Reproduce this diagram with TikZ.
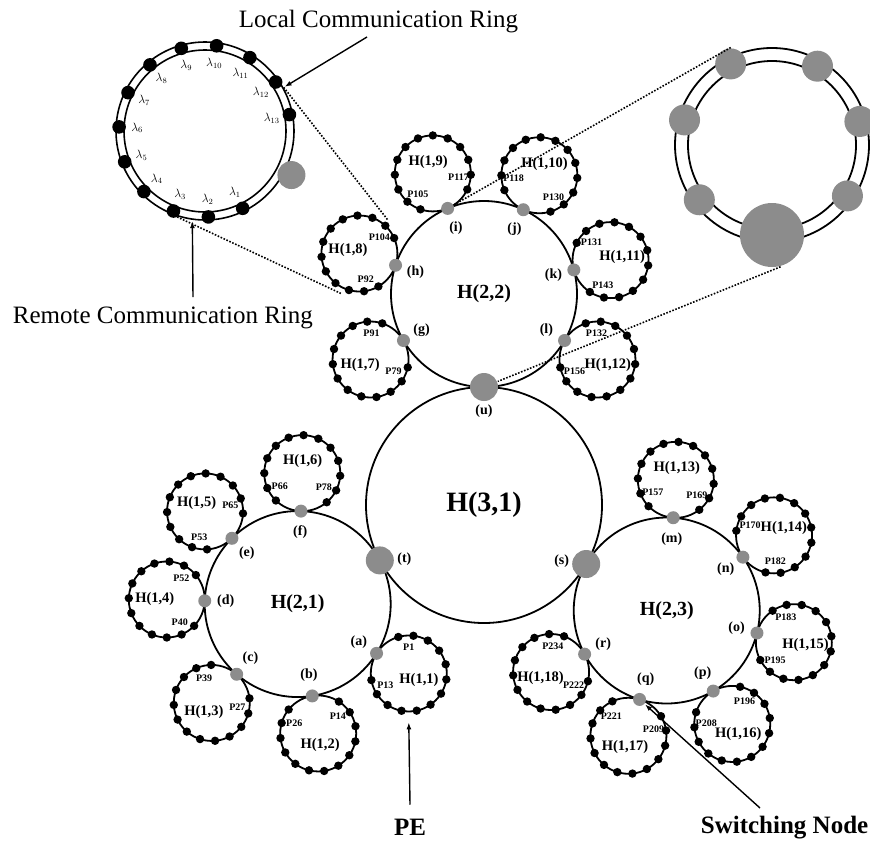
\documentclass[tikz,border=0pt]{standalone}
\usepackage{fontspec}
\setmainfont{Liberation Serif}
\usetikzlibrary{arrows.meta, calc, positioning}

\begin{document}
\begin{tikzpicture}[
		x=1pt, y=1pt,
		line width=1.8pt,
		hier/.style={draw, circle, line width=1.8pt, inner sep=0pt},
		pering/.style={draw, circle, line width=1.8pt, minimum size=76pt, inner sep=0pt},
		swbig/.style={circle, fill=black!45, minimum size=28pt, inner sep=0pt},
		swsmall/.style={circle, fill=black!45, minimum size=13pt, inner sep=0pt},
		bigname/.style={font=\fontsize{28}{30}\selectfont\bfseries},
		midname/.style={font=\fontsize{20}{22}\selectfont\bfseries},
		smallname/.style={font=\fontsize{14.5}{16}\selectfont\bfseries, inner sep=0pt},
		jlabel/.style={font=\fontsize{14}{16}\selectfont\bfseries},
		plabel/.style={font=\fontsize{10}{11}\selectfont\bfseries, inner sep=0pt},
		lambda/.style={font=\fontsize{12}{13}\selectfont, inner sep=0pt},
		caption/.style={font=\fontsize{25}{28}\selectfont, inner sep=0pt},
		bcaption/.style={font=\fontsize{25}{28}\selectfont\bfseries, inner sep=0pt},
		magline/.style={line width=1.6pt, dash pattern=on 1.6pt off 1.6pt},
		pointer/.style={line width=1.4pt, -{Latex[length=7pt,width=5pt]}}
	]

	\useasboundingbox (0,0) rectangle (870,-844);

	% rings of level 3 and 2
	\node[hier, minimum size=236pt] (h31) at (484,-505) {};
	\node[hier, minimum size=186pt] (h22) at ($(h31.center)+(90:211)$) {};
	\node[hier, minimum size=186pt] (h21) at ($(h31.center)+(208:211)$) {};
	\node[hier, minimum size=186pt] (h23) at ($(h31.center)+(330:211)$) {};

	\node[bigname] (n31) at (h31.center) {H(3,1)};
	\node[midname] (n22) at (h22.center) {H(2,2)};
	\node[midname] (n21) at (h21.center) {H(2,1)};
	\node[midname] (n23) at (h23.center) {H(2,3)};

	% rings of level 1, with their PEs
	\foreach \hc/\ang/\j/\n/\pfirst/\plast in {h21/328/a/1/1/13, h21/279/b/2/14/26, h21/229/c/3/27/39,
			h21/178/d/4/40/52, h21/135/e/5/53/65, h21/88/f/6/66/78,
			h22/210/g/7/79/91, h22/162/h/8/92/104, h22/113/i/9/105/117,
			h22/65/j/10/118/130, h22/15/k/11/131/143, h22/330/l/12/132/156,
			h23/86/m/13/157/169, h23/35/n/14/170/182, h23/346/o/15/183/195,
			h23/300/p/16/196/208, h23/253/q/17/209/221, h23/208/r/18/222/234} {
		\node[pering] (h1-\n) at ($(\hc.center)+(\ang:131)$) {};
		\foreach \k in {1,...,13}
			\fill ($(h1-\n.center)+(\ang+161-23*\k:38)$) circle (4.2);
		\node[smallname] (n1-\n) at ($(h1-\n.center)+(\ang:12)$) {H(1,\n)};
		\node[plabel] (pf-\n) at ($(h1-\n.center)+(\ang+122:26)$) {P\pfirst};
		\node[plabel] (pl-\n) at ($(h1-\n.center)+(\ang+238:26)$) {P\plast};
		\node[swsmall] (sw-\j) at ($(\hc.center)+(\ang:93)$) {};
		\node[jlabel] (lb-\j) at ($(\hc.center)+(\ang:72)$) {(\j)};
	}

	% switching nodes between level 2 rings
	\node[swbig] (sw-t) at ($(h21.center)+(28:93)$) {};
	\node[swbig] (sw-s) at ($(h23.center)+(150:93)$) {};
	\node[swbig] (sw-u) at ($(h22.center)+(270:93)$) {};
	\node[jlabel] (lb-t) at ($(h31.center)+(214:96)$) {(t)};
	\node[jlabel] (lb-s) at ($(h31.center)+(324:96)$) {(s)};
	\node[jlabel] (lb-u) at ($(h31.center)+(90:94)$) {(u)};

	% close-up of a local ring
	\coordinate (lc) at (205,-131);
	\draw[line width=1.6pt] (lc) circle (89) (lc) circle (81);
	\foreach \k in {1,...,13} {
		\fill ($(lc)+(296-23.75*\k+23.75:86)$) circle (6.8);
		\node[lambda] (lam-\k) at ($(lc)+(296-23.75*\k+23.75:68)$) {$\lambda_{\k}$};
	}
	\node[swbig] (lsw) at ($(lc)+(-27:97)$) {};

	% close-up of a remote ring
	\coordinate (rc) at (772,-145);
	\draw[line width=1.8pt] (rc) circle (97) (rc) circle (84);
	\foreach \a/\nm in {117/1, 60/2, 164/3, 15/4, 217/5, 326/6}
		\node[swsmall, minimum size=31pt] (r\nm) at ($(rc)+(\a:91)$) {};
	\node[swbig, minimum size=64pt] (ru) at ($(rc)+(270:90)$) {};

	\draw[magline] ($(lc)+(29:90)$) -- ($(h1-8.center)+(50:44)$);
	\draw[magline] ($(lc)+(250:90)$) -- ($(h1-8.center)+(245:44)$);
	\draw[magline] (r1.north) -- (sw-i);
	\draw[magline] (ru.-75) -- (sw-u);

	% captions
	\node[caption, anchor=base west] (local) at (238,-27) {Local Communication Ring};
	\coordinate (localtail) at (367,-37);
	\draw[pointer] (localtail) -- ($(lc)+(29:91)$);

	\node[caption, anchor=base west] (remote) at (12,-323) {Remote Communication Ring};
	\coordinate (remotetail) at (193,-297);
	\draw[pointer] (remotetail) -- ($(lc)+(262:91)$);

	\node[bcaption, anchor=base] (pe) at (410,-835) {PE};
	\draw[pointer] ([yshift=13pt]pe.north) -- ([yshift=-10pt]h1-1.south);

	\node[bcaption, anchor=base west] (sn) at (700,-833) {Switching Node};
	\coordinate (sntail) at (760,-808);
	\draw[pointer] (sntail) -- (sw-q);
\end{tikzpicture}
\end{document}
